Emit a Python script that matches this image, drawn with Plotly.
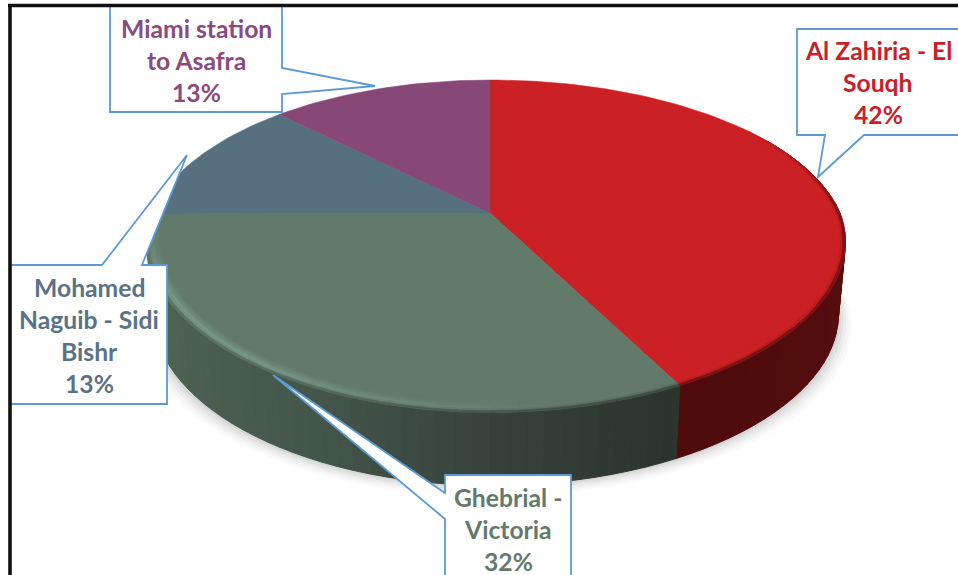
import math
import plotly.graph_objects as go

# ---- data (unrounded estimates; labels show rounded %)
names = ["Al Zahiria - El Souqh", "Ghebrial - Victoria", "Mohamed Naguib - Sidi Bishr", "Miami station to Asafra"]
values = [42.45, 32.45, 12.55, 12.55]
label_lines = [["Al Zahiria - El", "Souqh"], ["Ghebrial -", "Victoria"],
               ["Mohamed", "Naguib - Sidi", "Bishr"], ["Miami station", "to Asafra"]]
face_colors = ["#CC2124", "#637A6B", "#56707F", "#874878"]
text_colors = ["#C9202A", "#637A6B", "#5A7286", "#8A4A7E"]
label_centers = [(878, 50), (508, 497), (89, 287), (196, 28)]
line_step = 32.2
font_size = 24.7

W, H = 958, 575
CX, CY, AR, AL, B, K = 490, 213, 350, 338, 158.8, 0.194
DEPTH, BOTTOM_SCALE = 73, 0.98


def proj(theta_deg, r=1.0, dy=0.0, sc=1.0):
    t = math.radians(theta_deg)
    u, v = r * math.sin(t), r * math.cos(t)
    d = 1 + K * v
    x, y = u / d, v / d
    pinch_x = 1 + 0.02 * min(v, 0.0)      # the front of the pie is slightly narrower ...
    stretch_y = 1 - 0.012 * min(v, 0.0)   # ... and slightly lower than the pure projection
    return CX + (AR if x > 0 else AL) * x * sc * pinch_x, CY - B * y * stretch_y + dy


def hex2rgb(c):
    return tuple(int(c[i:i + 2], 16) for i in (1, 3, 5))


def mix(a, b, t):
    t = max(0.0, min(1.0, t))
    return tuple(a[i] + (b[i] - a[i]) * t for i in range(3))


def rgb(c):
    return "rgb(%d,%d,%d)" % tuple(round(x) for x in c)


def frange(a, b, step):
    n = max(1, int(math.ceil((b - a) / step)))
    return [a + (b - a) * i / n for i in range(n + 1)]


# slice boundaries in degrees, clockwise from the top
bounds = [0.0]
for v in values:
    bounds.append(bounds[-1] + 360.0 * v / sum(values))

fig = go.Figure()

# soft shadow under the pie
for i, (grow, alpha) in enumerate([(15, 0.018), (12, 0.022), (9, 0.03), (6, 0.04), (3, 0.05)]):
    xs, ys = [], []
    for th in frange(0, 360, 4):
        x, y = proj(th, dy=DEPTH + grow * 0.75, sc=BOTTOM_SCALE)
        xs.append(x + (x - CX) / 350 * grow * 0.9)
        ys.append(y)
    fig.add_trace(go.Scatter(x=xs, y=ys, mode="lines", fill="toself", fillcolor="rgba(0,0,0,%g)" % alpha,
                             line=dict(width=0), hoverinfo="skip", showlegend=False))


def wall_color(idx, th):
    if idx == 0:
        return mix(hex2rgb("#560D0D"), hex2rgb("#4E0B0C"), (th - 100) / 50)
    if th < bounds[2]:
        stops = [(bounds[1], "#2A332C"), (180, "#36423A"), (205, "#44564A"), (240, "#4E6254"), (270, "#526858")]
        for (a, ca), (b, cb) in zip(stops, stops[1:]):
            if th <= b:
                return mix(hex2rgb(ca), hex2rgb(cb), (th - a) / (b - a))
        return hex2rgb(stops[-1][1])
    return hex2rgb("#526858")


groups = {}


def add_quad(col, pts):
    key = rgb(col)
    g = groups.setdefault(key, ([], []))
    for p in pts + [pts[0]]:
        g[0].append(p[0])
        g[1].append(p[1])
    g[0].append(None)
    g[1].append(None)


# side wall of the two slices facing the viewer
for idx, (a, b) in enumerate([(60, bounds[1]), (bounds[1], 285)]):
    th_list = frange(a, b, 2.5)
    for t0, t1 in zip(th_list, th_list[1:]):
        col = wall_color(idx, (t0 + t1) / 2)
        add_quad(col, [proj(t0), proj(t1), proj(t1, dy=DEPTH, sc=BOTTOM_SCALE), proj(t0, dy=DEPTH, sc=BOTTOM_SCALE)])
for key, (xs, ys) in groups.items():
    fig.add_trace(go.Scatter(x=xs, y=ys, mode="lines", fill="toself", fillcolor=key,
                             line=dict(width=1, color=key), hoverinfo="skip", showlegend=False))

# top face slices
for i, v in enumerate(values):
    xs, ys = [CX], [CY]
    for th in frange(bounds[i], bounds[i + 1], 1.5):
        x, y = proj(th)
        xs.append(x)
        ys.append(y)
    xs.append(CX)
    ys.append(CY)
    fig.add_trace(go.Scatter(x=xs, y=ys, mode="lines", fill="toself", fillcolor=face_colors[i],
                             line=dict(width=0.5, color=face_colors[i]), name=names[i],
                             hoverinfo="skip", showlegend=False))

# bevel at the rim
groups = {}
bands = 6
R0 = 0.96
for idx, (a, b) in enumerate([(55, bounds[1]), (bounds[1], bounds[2])]):
    th_list = frange(a, b, 4)
    face = hex2rgb(face_colors[idx])
    for t0, t1 in zip(th_list, th_list[1:]):
        th = (t0 + t1) / 2
        wall = wall_color(idx, th)
        if idx == 1:
            hl = max(0.0, min(1.0, (th - 170) / 50))
            peak = mix(face, hex2rgb("#7C9A89"), hl)
        else:
            peak = face
        for j in range(bands):
            s = (j + 0.5) / bands
            r0 = R0 + (1 - R0) * j / bands
            r1 = R0 + (1 - R0) * (j + 1) / bands
            c = mix(face, peak, s / 0.65)
            if s > 0.65:
                c = mix(peak, wall, ((s - 0.65) / 0.35) ** 1.5)
            if idx == 0:
                fade = max(0.0, min(1.0, (th - 55) / 30))
                c = mix(face, c, fade)
            if idx == 1:
                fade = max(0.0, min(1.0, (268 - th) / 25))
                c = mix(face, c, fade)
            add_quad(c, [proj(t0, r0), proj(t1, r0), proj(t1, r1), proj(t0, r1)])
for key, (xs, ys) in groups.items():
    fig.add_trace(go.Scatter(x=xs, y=ys, mode="lines", fill="toself", fillcolor=key,
                             line=dict(width=0.7, color=key), hoverinfo="skip", showlegend=False))

# callout boxes
callouts = [
    "M110,6 L282,6 L282,68 L375,86 L282,94 L282,112 L110,112 Z",
    "M797,29 L962,29 L962,135 L864,135 L818,177 L825,135 L797,135 Z",
    "M10,265 L102,265 L187,155 L142,265 L167,265 L167,404 L10,404 Z",
    "M445,475 L571,475 L571,580 L445,580 L445,519 L273,375 L445,493 Z",
]
shapes = [dict(type="path", path=p, fillcolor="#FFFFFF", line=dict(color="#5B9BD5", width=1.8),
               xref="x", yref="y", layer="above") for p in callouts]
# outer frame
shapes.append(dict(type="line", x0=8, x1=W + 5, y0=5.5, y1=5.5, xref="x", yref="y",
                   line=dict(color="#111111", width=3.6), layer="above"))
shapes.append(dict(type="line", x0=10, x1=10, y0=4, y1=H + 5, xref="x", yref="y",
                   line=dict(color="#111111", width=3.6), layer="above"))

annotations = []
for i, v in enumerate(values):
    cx, cy = label_centers[i]
    for j, line in enumerate(label_lines[i] + ["%d%%" % round(v)]):
        annotations.append(dict(x=cx, y=cy + j * line_step, text="<b>%s</b>" % line, showarrow=False,
                                xref="x", yref="y", xanchor="center", yanchor="middle",
                                font=dict(family="Lato", size=font_size, color=text_colors[i])))

fig.update_layout(width=W, height=H, margin=dict(l=0, r=0, t=0, b=0),
                  paper_bgcolor="white", plot_bgcolor="white", showlegend=False, hovermode=False,
                  xaxis=dict(range=[0, W], visible=False, fixedrange=True),
                  yaxis=dict(range=[H, 0], visible=False, fixedrange=True),
                  shapes=shapes, annotations=annotations)
fig.write_html("out.html", config=dict(displayModeBar=False),
               post_script="document.body.style.margin='0';document.body.style.overflow='hidden';")
